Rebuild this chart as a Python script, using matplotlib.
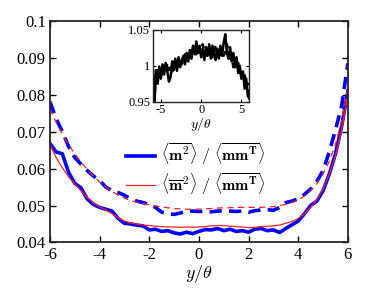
import matplotlib
matplotlib.use("Agg")
import matplotlib.pyplot as plt
import numpy as np

plt.rcParams['font.family'] = ['Liberation Serif', 'DejaVu Serif']
plt.rcParams['mathtext.fontset'] = 'cm'

y_main = [-6.0, -5.75, -5.5, -5.25, -5.0, -4.75, -4.5, -4.25, -4.0, -3.75, -3.5, -3.25,
          -3.0, -2.75, -2.5, -2.25, -2.0, -1.75, -1.5, -1.25, -1.0, -0.75, -0.5, -0.25,
          0.0, 0.25, 0.5, 0.75, 1.0, 1.25, 1.5, 1.75, 2.0, 2.25, 2.5, 2.75, 3.0, 3.25,
          3.5, 3.75, 4.0, 4.25, 4.5, 4.75, 5.0, 5.25, 5.5, 5.75, 6.0]

blue_solid = [0.0668, 0.0645, 0.0640, 0.0590, 0.0560, 0.0548, 0.0518, 0.0503, 0.0495, 0.0490,
              0.0485, 0.0465, 0.0452, 0.0450, 0.0447, 0.0445, 0.0434, 0.0436, 0.0430, 0.0432,
              0.0426, 0.0423, 0.0428, 0.0424, 0.0430, 0.0435, 0.0434, 0.0438, 0.0432, 0.0436,
              0.0430, 0.0432, 0.0428, 0.0436, 0.0438, 0.0432, 0.0434, 0.0427, 0.0438, 0.0448,
              0.0458, 0.0478, 0.0500, 0.0512, 0.0540, 0.0585, 0.0640, 0.0715, 0.0810]

red_solid = [0.0665, 0.0630, 0.0602, 0.0578, 0.0558, 0.0540, 0.0522, 0.0508, 0.0497, 0.0488,
             0.0478, 0.0467, 0.0458, 0.0453, 0.0450, 0.0447, 0.0446, 0.0444, 0.0443, 0.0442,
             0.0442, 0.0441, 0.0442, 0.0441, 0.0442, 0.0443, 0.0445, 0.0446, 0.0446, 0.0444,
             0.0443, 0.0442, 0.0440, 0.0441, 0.0443, 0.0444, 0.0445, 0.0447, 0.0452, 0.0457,
             0.0465, 0.0478, 0.0495, 0.0517, 0.0545, 0.0585, 0.0635, 0.0705, 0.0800]

blue_dash = [0.0781, 0.0735, 0.0700, 0.0660, 0.0630, 0.0612, 0.0595, 0.0580, 0.0568, 0.0550,
             0.0540, 0.0535, 0.0528, 0.0518, 0.0512, 0.0508, 0.0503, 0.0495, 0.0482, 0.0478,
             0.0476, 0.0480, 0.0484, 0.0485, 0.0484, 0.0484, 0.0483, 0.0485, 0.0486, 0.0485,
             0.0484, 0.0485, 0.0482, 0.0486, 0.0488, 0.0489, 0.0487, 0.0495, 0.0508, 0.0512,
             0.0518, 0.0530, 0.0545, 0.0565, 0.0595, 0.0645, 0.0705, 0.0770, 0.0885]

red_dash = [0.0762, 0.0725, 0.0693, 0.0665, 0.0640, 0.0618, 0.0598, 0.0580, 0.0564, 0.0550,
            0.0538, 0.0528, 0.0520, 0.0514, 0.0509, 0.0505, 0.0502, 0.0499, 0.0496, 0.0494,
            0.0492, 0.0491, 0.0490, 0.0490, 0.0490, 0.0491, 0.0492, 0.0493, 0.0494, 0.0494,
            0.0495, 0.0495, 0.0495, 0.0495, 0.0495, 0.0496, 0.0497, 0.0500, 0.0503, 0.0508,
            0.0515, 0.0526, 0.0540, 0.0560, 0.0585, 0.0620, 0.0665, 0.0730, 0.0820]

y_inset = [-6.0, -5.8, -5.6, -5.4, -5.2, -5.0, -4.8, -4.6, -4.4, -4.2, -4.0, -3.8, -3.6, -3.4,
           -3.2, -3.0, -2.8, -2.6, -2.4, -2.2, -2.0, -1.8, -1.6, -1.4, -1.2, -1.0, -0.8, -0.6,
           -0.4, -0.2, 0.0, 0.2, 0.4, 0.6, 0.8, 1.0, 1.2, 1.4, 1.6, 1.8, 2.0, 2.2, 2.4, 2.6,
           2.8, 3.0, 3.2, 3.4, 3.6, 3.8, 4.0, 4.2, 4.4, 4.6, 4.8, 5.0, 5.2, 5.4, 5.6, 5.8, 6.0]

ratio_solid = [0.995, 0.945, 0.994, 0.975, 0.999, 0.982, 1.002, 0.988, 1.004, 0.992, 0.978,
               0.984, 1.006, 0.994, 1.010, 0.993, 1.012, 0.998, 1.008, 1.014, 1.002, 1.018,
               1.006, 1.022, 1.010, 1.026, 1.016, 1.034, 1.018, 1.028, 1.012, 1.024, 1.008,
               1.026, 1.014, 1.030, 1.010, 1.028, 1.016, 1.008, 1.024, 1.010, 1.028, 1.014,
               1.032, 1.044, 1.018, 1.010, 1.026, 1.006, 1.018, 0.998, 1.012, 0.990, 1.000,
               0.982, 0.992, 0.968, 0.982, 0.958, 0.954]

ratio_dash = [0.990, 0.960, 0.985, 0.994, 0.982, 0.996, 0.988, 1.000, 0.990, 1.004, 0.994,
              1.002, 0.992, 1.006, 0.998, 1.004, 0.996, 1.010, 1.002, 1.008, 1.016, 1.006,
              1.014, 1.022, 1.014, 1.028, 1.022, 1.016, 1.026, 1.018, 1.024, 1.030, 1.018,
              1.014, 1.024, 1.016, 1.022, 1.012, 1.020, 1.028, 1.016, 1.010, 1.018, 1.022,
              1.014, 1.020, 1.030, 1.020, 1.005, 1.014, 0.998, 1.008, 0.996, 1.004, 0.990,
              0.996, 0.982, 0.988, 0.970, 0.975, 0.958]

main_xticks = [-6, -4, -2, 0, 2, 4, 6]
main_yticks = [0.04, 0.05, 0.06, 0.07, 0.08, 0.09, 0.1]
main_yticklabels = ['0.04', '0.05', '0.06', '0.07', '0.08', '0.09', '0.1']
inset_xticks = [-5, 0, 5]
inset_yticks = [0.95, 1.0, 1.05]
inset_yticklabels = ['0.95', '1', '1.05']

label1 = r'$\langle\overline{\mathbf{m}^2}\rangle\ /\ \langle\overline{\mathbf{mm}^\mathbf{T}}\rangle$'
label2 = r'$\langle\overline{\mathbf{m}}^2\rangle\ /\ \langle\overline{\mathbf{mm}^\mathbf{T}}\rangle$'

fig = plt.figure(figsize=(3.84, 2.88), dpi=100)
ax = fig.add_axes([0.130, 0.158, 0.776, 0.770])

ax.plot(y_main, blue_solid, color='#0000ff', lw=2.6, label=label1, solid_joinstyle='round')
ax.plot(y_main, red_solid, color='#ff2020', lw=0.9, label=label2)
ax.plot(y_main, blue_dash, color='#0000ff', lw=2.6, ls=(0, (3.4, 2.0)))
ax.plot(y_main, red_dash, color='#ff2020', lw=0.9, ls=(0, (5, 3.5)))

ax.set_xlim(-6, 6)
ax.set_ylim(0.04, 0.1)
ax.set_xticks(main_xticks)
ax.set_xticklabels([str(t) for t in main_xticks])
ax.set_yticks(main_yticks)
ax.set_yticklabels(main_yticklabels)
ax.tick_params(direction='in', top=True, right=True, length=4, width=1.0, labelsize=12, pad=3)
for s in ax.spines.values():
    s.set_linewidth(1.3)
    s.set_color('#262626')
ax.set_xlabel(r'$y/\theta$', fontsize=13, labelpad=0)

leg = ax.legend(loc='center', bbox_to_anchor=(0.49, 0.33), frameon=False, fontsize=11.5,
                handlelength=1.8, handletextpad=0.4, labelspacing=0.25, borderpad=0.2)

ins = fig.add_axes([0.398, 0.647, 0.2516, 0.249])
ins.plot(y_inset, ratio_solid, color='black', lw=1.8)
ins.plot(y_inset, ratio_dash, color='black', lw=1.8, ls=(0, (2.5, 2)))
ins.set_xlim(-6, 6)
ins.set_ylim(0.95, 1.05)
ins.set_xticks(inset_xticks)
ins.set_xticklabels([str(t) for t in inset_xticks])
ins.set_yticks(inset_yticks)
ins.set_yticklabels(inset_yticklabels)
ins.tick_params(direction='in', top=True, right=True, length=2.5, width=0.8, labelsize=9, pad=2)
for s in ins.spines.values():
    s.set_linewidth(1.0)
    s.set_color('#262626')
ins.set_xlabel(r'$y/\theta$', fontsize=10, labelpad=-1)

fig.savefig('out.png', dpi=100)
